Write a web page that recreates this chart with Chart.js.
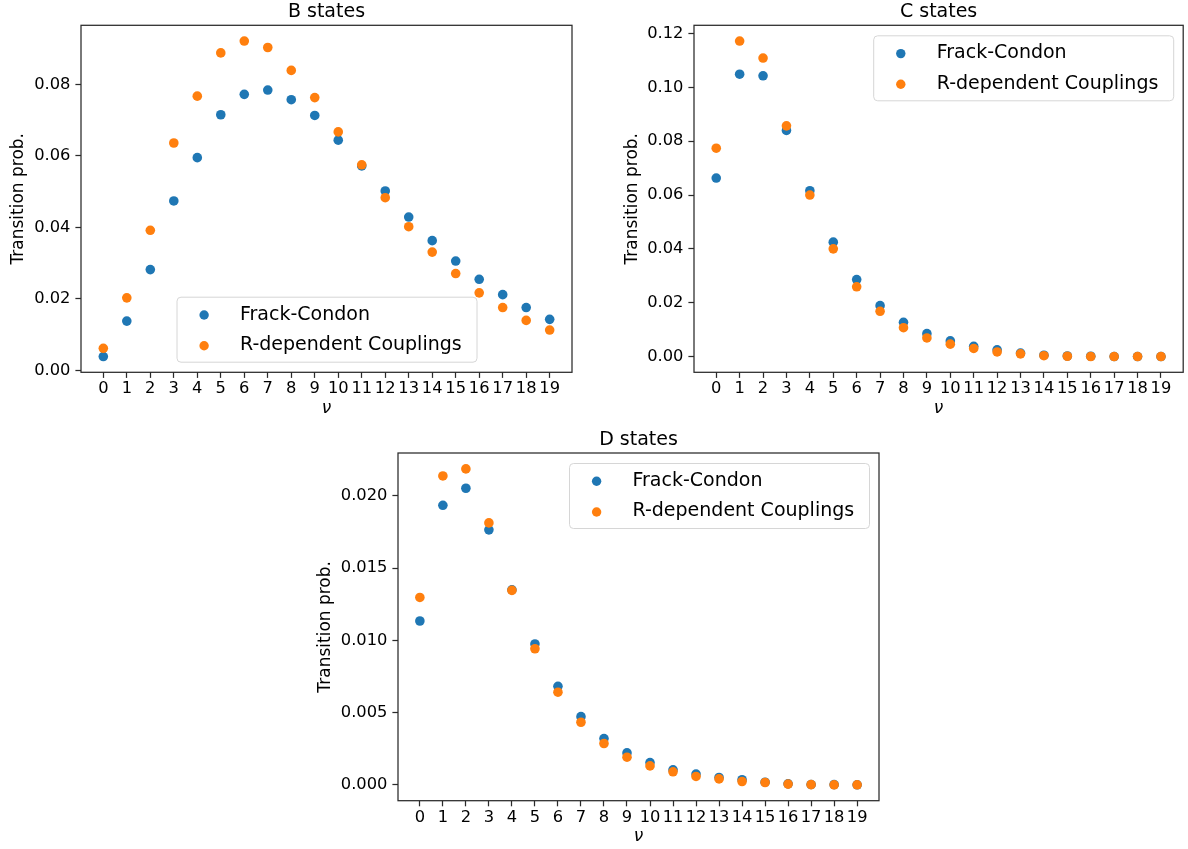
<!DOCTYPE html>
<html>
<head>
<meta charset="utf-8">
<title>Transition probabilities</title>
<script src="https://cdn.jsdelivr.net/npm/chart.js@4.4.1/dist/chart.umd.min.js"></script>
<style>
  html, body { margin: 0; padding: 0; background: #fff; }
  body { width: 1188px; height: 849px; position: relative; overflow: hidden; }
  canvas { position: absolute; }
</style>
</head>
<body>
<canvas id="chartB" width="590" height="420" style="left:0;top:0"></canvas>
<canvas id="chartC" width="588" height="420" style="left:600px;top:0"></canvas>
<canvas id="chartD" width="590" height="419" style="left:300px;top:430px"></canvas>
<script>
'use strict';

// vibrational levels (x axis)
const levels = [0, 1, 2, 3, 4, 5, 6, 7, 8, 9, 10, 11, 12, 13, 14, 15, 16, 17, 18, 19];

// B states
const bFranck = [0.0039, 0.0138, 0.0282, 0.0474, 0.0595, 0.0715, 0.0772, 0.0784, 0.0757, 0.0713,
                 0.0644, 0.0572, 0.0502, 0.0429, 0.0363, 0.0306, 0.0255, 0.0212, 0.0176, 0.0143];
const bCoupled = [0.0062, 0.0203, 0.0392, 0.0636, 0.0767, 0.0888, 0.0921, 0.0903, 0.0839, 0.0763,
                  0.0667, 0.0575, 0.0483, 0.0402, 0.0331, 0.0271, 0.0217, 0.0176, 0.0140, 0.0113];
const bTicks = [0, 0.02, 0.04, 0.06, 0.08];

// C states
const cFranck = [0.0663, 0.1049, 0.1043, 0.0840, 0.0616, 0.0425, 0.0286, 0.0189, 0.0127, 0.0085,
                 0.0058, 0.0038, 0.0025, 0.0013, 0.0005, 0.0002, 0.0001, 0.0000, 0.0000, 0.0000];
const cCoupled = [0.0774, 0.1172, 0.1109, 0.0857, 0.0600, 0.0400, 0.0259, 0.0168, 0.0107, 0.0069,
                  0.0046, 0.0030, 0.0017, 0.0010, 0.0003, 0.0001, 0.0000, 0.0000, 0.0000, 0.0000];
const cTicks = [0, 0.02, 0.04, 0.06, 0.08, 0.10, 0.12];

// D states
const dFranck = [0.01134, 0.01935, 0.02053, 0.01765, 0.01350, 0.00975, 0.00682, 0.00472, 0.00320, 0.00221,
                 0.00154, 0.00104, 0.00074, 0.00051, 0.00035, 0.00018, 0.00007, 0.00002, 0.00001, 0.00000];
const dCoupled = [0.01297, 0.02138, 0.02187, 0.01813, 0.01346, 0.00942, 0.00641, 0.00433, 0.00286, 0.00191,
                  0.00131, 0.00090, 0.00058, 0.00041, 0.00023, 0.00016, 0.00005, 0.00001, 0.00000, 0.00000];
const dTicks = [0, 0.005, 0.010, 0.015, 0.020];

const seriesNames = ['Frack-Condon', 'R-dependent Couplings'];
const seriesColors = ['#1f77b4', '#ff7f0e'];

Chart.defaults.font.family = '"DejaVu Sans", sans-serif';
Chart.defaults.color = '#000';

const axisColor = '#2a2a2a';

// frame, panel title and matplotlib-like legend inside the plot area
const panelDecor = {
  id: 'panelDecor',
  afterDraw: function (chart, args, opts) {
    const ctx = chart.ctx;
    const a = chart.chartArea;
    ctx.save();

    ctx.strokeStyle = axisColor;
    ctx.lineWidth = 1.25;
    ctx.strokeRect(a.left, a.top, a.right - a.left, a.bottom - a.top);

    ctx.fillStyle = '#000';
    ctx.font = '19px "DejaVu Sans"';
    ctx.textAlign = 'center';
    ctx.textBaseline = 'alphabetic';
    ctx.fillText(opts.title, (a.left + a.right) / 2, a.top - 8);

    const w = 300, h = 65;
    let lx, ly;
    if (opts.legendPos === 'lower center') {
      lx = (a.left + a.right) / 2 - w / 2;
      ly = a.bottom - 10.6 - h;
    } else {
      lx = a.right - 10 - w;
      ly = a.top + 10;
    }
    ctx.beginPath();
    ctx.roundRect(lx + 0.5, ly + 0.5, w, h, 4);
    ctx.fillStyle = 'rgba(255,255,255,0.8)';
    ctx.fill();
    ctx.strokeStyle = '#d6d6d6';
    ctx.lineWidth = 1;
    ctx.stroke();

    ctx.textAlign = 'left';
    chart.data.datasets.forEach(function (ds, i) {
      ctx.beginPath();
      ctx.arc(lx + 27.6, ly + 18.3 + i * 30.7, 4.7, 0, Math.PI * 2);
      ctx.fillStyle = ds.backgroundColor;
      ctx.fill();
      ctx.fillStyle = '#000';
      ctx.fillText(ds.label, lx + 63.5, ly + 22.8 + i * 30.5);
    });
    ctx.restore();
  }
};

function makePanel(canvasId, franck, coupled, yTicks, decimals, cfg) {
  const ctx = document.getElementById(canvasId).getContext('2d');
  return new Chart(ctx, {
    type: 'scatter',
    data: {
      datasets: [{
        label: seriesNames[0],
        data: levels.map((v, i) => ({ x: v, y: franck[i] })),
        backgroundColor: seriesColors[0],
        order: 1
      }, {
        label: seriesNames[1],
        data: levels.map((v, i) => ({ x: v, y: coupled[i] })),
        backgroundColor: seriesColors[1],
        order: 0
      }]
    },
    options: {
      responsive: false,
      animation: false,
      events: [],
      layout: {
        padding: { top: cfg.top, right: cfg.right, left: 0, bottom: 0 }
      },
      elements: {
        point: { radius: 4.8, borderWidth: 0 }
      },
      plugins: {
        legend: { display: false },
        tooltip: { enabled: false },
        panelDecor: { title: cfg.title, legendPos: cfg.legendPos }
      },
      scales: {
        x: {
          type: 'linear',
          min: -0.95,
          max: 19.95,
          afterBuildTicks: function (scale) {
            scale.ticks = levels.map(v => ({ value: v }));
          },
          afterFit: function (scale) {
            scale.height = cfg.xHeight;
            scale.paddingLeft = 0;
            scale.paddingRight = 0;
          },
          ticks: {
            autoSkip: false,
            maxRotation: 0,
            minRotation: 0,
            padding: 1.5,
            font: { size: 16.3 },
            callback: function (val) { return String(val); }
          },
          grid: {
            drawOnChartArea: false,
            drawTicks: true,
            tickLength: 5.6,
            tickWidth: 1.25,
            tickColor: axisColor
          },
          border: { display: false },
          title: {
            display: true,
            text: 'ν',
            font: { size: 17, style: 'italic' },
            padding: { top: 0, bottom: cfg.nuPad }
          }
        },
        y: {
          type: 'linear',
          min: cfg.yMin,
          max: cfg.yMax,
          afterBuildTicks: function (scale) {
            scale.ticks = yTicks.map(v => ({ value: v }));
          },
          afterFit: function (scale) {
            scale.width = cfg.yWidth;
            scale.paddingTop = 0;
            scale.paddingBottom = 0;
          },
          ticks: {
            padding: 5,
            font: { size: 16.3 },
            callback: function (val) { return Number(val).toFixed(decimals); }
          },
          grid: {
            drawOnChartArea: false,
            drawTicks: true,
            tickLength: 5.6,
            tickWidth: 1.25,
            tickColor: axisColor
          },
          border: { display: false },
          title: {
            display: true,
            text: 'Transition prob.',
            font: { size: 17 },
            padding: { top: cfg.labelPad, bottom: 0 }
          }
        }
      }
    },
    plugins: [panelDecor]
  });
}

makePanel('chartB', bFranck, bCoupled, bTicks, 2, {
  title: 'B states', legendPos: 'lower center',
  top: 25.3, right: 18, xHeight: 47.7, yWidth: 81,
  yMin: -0.00051, yMax: 0.09651, labelPad: 8.8, nuPad: 1.4
});

makePanel('chartC', cFranck, cCoupled, cTicks, 2, {
  title: 'C states', legendPos: 'upper right',
  top: 25.3, right: 3, xHeight: 47.7, yWidth: 94,
  yMin: -0.00586, yMax: 0.12306, labelPad: 22.8, nuPad: 1.4
});

makePanel('chartD', dFranck, dCoupled, dTicks, 3, {
  title: 'D states', legendPos: 'upper right',
  top: 23, right: 11, xHeight: 48.3, yWidth: 98,
  yMin: -0.0011, yMax: 0.02297, labelPad: 15.8, nuPad: 1.9
});
</script>
</body>
</html>
